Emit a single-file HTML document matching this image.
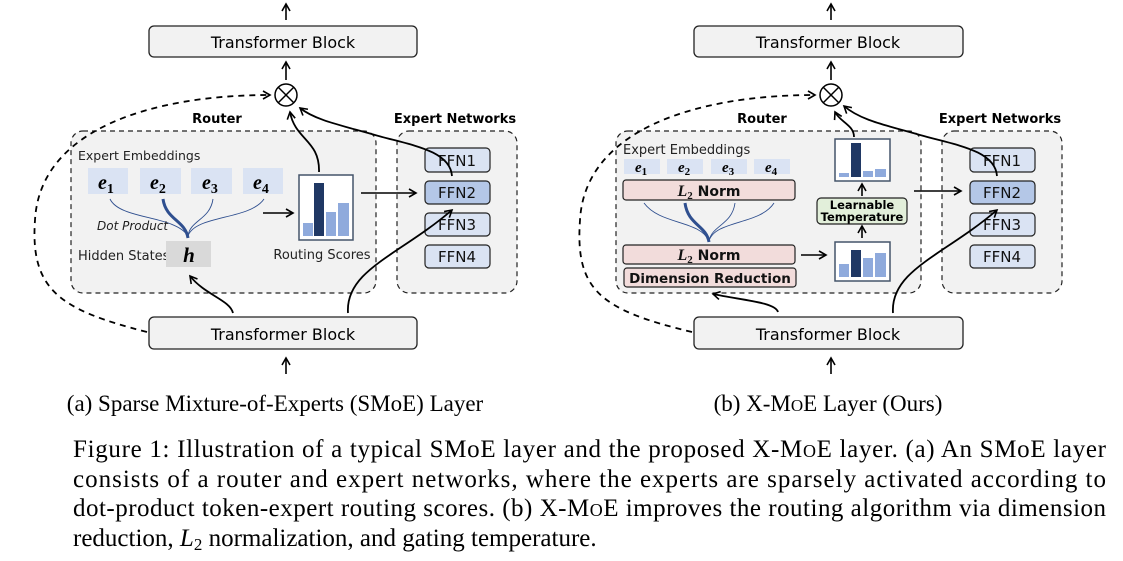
<!DOCTYPE html>
<html><head><meta charset="utf-8"><style>
html,body{margin:0;padding:0;background:#fff;}
svg{display:block;}
.s{font-family:"DejaVu Sans","Liberation Sans",sans-serif;}
.r{font-family:"Liberation Serif",serif;}
</style></head><body>
<svg width="1123" height="561" viewBox="0 0 1123 561" xmlns="http://www.w3.org/2000/svg">
<defs>
<marker id="a" markerWidth="10" markerHeight="10" refX="8" refY="5" orient="auto" markerUnits="userSpaceOnUse">
<path d="M1,1 L8,5 L1,9" fill="none" stroke="#000" stroke-width="1.6"/></marker>
</defs>
<g id="L">
<line x1="286" y1="20" x2="286" y2="4" stroke="#000" stroke-width="1.6" marker-end="url(#a)"/>
<rect x="149" y="26" width="268" height="31" rx="5" fill="#f2f2f2" stroke="#222" stroke-width="1.3"/>
<text x="283" y="48" class="s" font-size="16" text-anchor="middle">Transformer Block</text>
<line x1="286" y1="80" x2="286" y2="62" stroke="#000" stroke-width="1.6" marker-end="url(#a)"/>
<circle cx="286" cy="95" r="11" fill="#fff" stroke="#000" stroke-width="1.5"/>
<line x1="278" y1="87" x2="294" y2="103" stroke="#000" stroke-width="1.5"/>
<line x1="294" y1="87" x2="278" y2="103" stroke="#000" stroke-width="1.5"/>
<rect x="71" y="131" width="305" height="162" rx="12" fill="#f2f2f2" stroke="#222" stroke-width="1.2" stroke-dasharray="5,4"/>
<rect x="397" y="131" width="120" height="162" rx="12" fill="#f2f2f2" stroke="#222" stroke-width="1.2" stroke-dasharray="5,4"/>
<text x="217" y="123" class="s" font-size="13" font-weight="bold" text-anchor="middle">Router</text>
<text x="455" y="123" class="s" font-size="13" font-weight="bold" text-anchor="middle">Expert Networks</text>
<text x="78" y="160" class="s" font-size="12.5" fill="#222">Expert Embeddings</text>
<g fill="#dae3f3">
<rect x="88" y="168" width="40" height="26"/><rect x="140" y="168" width="41" height="26"/><rect x="191" y="168" width="41" height="26"/><rect x="243" y="168" width="40" height="26"/></g>
<g class="r" font-size="20" font-style="italic" font-weight="bold">
<text x="98" y="189">e<tspan font-size="14" font-style="normal" dy="4">1</tspan></text>
<text x="150" y="189">e<tspan font-size="14" font-style="normal" dy="4">2</tspan></text>
<text x="202" y="189">e<tspan font-size="14" font-style="normal" dy="4">3</tspan></text>
<text x="253" y="189">e<tspan font-size="14" font-style="normal" dy="4">4</tspan></text></g>
<g fill="none" stroke="#2f4f8f">
<path d="M110,199 C120,220 175,215 188,236" stroke-width="0.9"/>
<path d="M163,199 C166,220 185,220 188,238" stroke-width="3"/>
<path d="M213,199 C210,220 190,220 188,236" stroke-width="0.9"/>
<path d="M264,199 C250,220 195,215 188,236" stroke-width="0.9"/></g>
<text x="97" y="230" class="s" font-size="12" font-style="italic" fill="#222">Dot Product</text>
<text x="78" y="260" class="s" font-size="13" fill="#222">Hidden States</text>
<rect x="166" y="241" width="45" height="26" fill="#d9d9d9"/>
<text x="189" y="262" class="r" font-size="21" font-style="italic" font-weight="bold" text-anchor="middle">h</text>
<line x1="263" y1="213" x2="293" y2="213" stroke="#000" stroke-width="1.6" marker-end="url(#a)"/>
<rect x="299" y="175" width="54" height="65" fill="#fff" stroke="#44546a" stroke-width="1.5"/>
<rect x="303" y="223" width="10" height="13" fill="#8faadc"/><rect x="314" y="183" width="10" height="53" fill="#203864"/>
<rect x="326" y="212" width="10" height="24" fill="#8faadc"/><rect x="338" y="203" width="11" height="33" fill="#8faadc"/>
<text x="322" y="259" class="s" font-size="13" fill="#222" text-anchor="middle">Routing Scores</text>
<line x1="361" y1="193" x2="416" y2="193" stroke="#000" stroke-width="1.6" marker-end="url(#a)"/>
<g stroke="#222" stroke-width="1.2">
<rect x="425" y="148" width="65" height="24" rx="4" fill="#dae3f3"/>
<rect x="425" y="181" width="65" height="23" rx="4" fill="#b4c7e7"/>
<rect x="425" y="213" width="65" height="23" rx="4" fill="#dae3f3"/>
<rect x="425" y="245" width="65" height="23" rx="4" fill="#dae3f3"/></g>
<g class="s" font-size="15" text-anchor="middle" fill="#111">
<text x="457" y="166">FFN1</text><text x="457" y="198">FFN2</text><text x="457" y="230">FFN3</text><text x="457" y="262">FFN4</text></g>
<g fill="none" stroke="#000" stroke-width="1.8">
<path d="M319,172 C320,140 295,140 290,112" marker-end="url(#a)"/>
<path d="M452,176 C450,150 410,145 375,135 C340,125 315,120 300,108" marker-end="url(#a)"/>
<path d="M233,313 C230,300 205,295 190,276" marker-end="url(#a)"/>
<path d="M348,313 C345,270 400,255 452,210" marker-end="url(#a)"/>
<path d="M147,332 C60,310 30,290 35,220 C40,130 150,95 270,95" stroke-dasharray="6,5" marker-end="url(#a)"/></g>
<rect x="149" y="317" width="268" height="32" rx="5" fill="#f2f2f2" stroke="#222" stroke-width="1.3"/>
<text x="283" y="340" class="s" font-size="16" text-anchor="middle">Transformer Block</text>
<line x1="286" y1="374" x2="286" y2="358" stroke="#000" stroke-width="1.6" marker-end="url(#a)"/>
<text x="275" y="411" class="r" font-size="23" text-anchor="middle">(a) Sparse Mixture-of-Experts (SMoE) Layer</text>
</g>
<g id="R">
<line x1="831" y1="20" x2="831" y2="4" stroke="#000" stroke-width="1.6" marker-end="url(#a)"/>
<rect x="694" y="26" width="269" height="31" rx="5" fill="#f2f2f2" stroke="#222" stroke-width="1.3"/>
<text x="828" y="48" class="s" font-size="16" text-anchor="middle">Transformer Block</text>
<line x1="831" y1="80" x2="831" y2="62" stroke="#000" stroke-width="1.6" marker-end="url(#a)"/>
<circle cx="831" cy="95" r="11" fill="#fff" stroke="#000" stroke-width="1.5"/>
<line x1="823" y1="87" x2="839" y2="103" stroke="#000" stroke-width="1.5"/>
<line x1="839" y1="87" x2="823" y2="103" stroke="#000" stroke-width="1.5"/>
<rect x="616" y="131" width="305" height="162" rx="12" fill="#f2f2f2" stroke="#222" stroke-width="1.2" stroke-dasharray="5,4"/>
<rect x="942" y="131" width="120" height="162" rx="12" fill="#f2f2f2" stroke="#222" stroke-width="1.2" stroke-dasharray="5,4"/>
<text x="762" y="123" class="s" font-size="13" font-weight="bold" text-anchor="middle">Router</text>
<text x="1000" y="123" class="s" font-size="13" font-weight="bold" text-anchor="middle">Expert Networks</text>
<text x="623" y="154" class="s" font-size="13" fill="#222">Expert Embeddings</text>
<g fill="#dae3f3">
<rect x="624" y="159" width="36" height="15"/><rect x="667" y="159" width="36" height="15"/><rect x="711" y="159" width="36" height="15"/><rect x="754" y="159" width="36" height="15"/></g>
<g class="r" font-size="15" font-style="italic" font-weight="bold">
<text x="635" y="172">e<tspan font-size="11" font-style="normal" dy="3">1</tspan></text>
<text x="678" y="172">e<tspan font-size="11" font-style="normal" dy="3">2</tspan></text>
<text x="722" y="172">e<tspan font-size="11" font-style="normal" dy="3">3</tspan></text>
<text x="765" y="172">e<tspan font-size="11" font-style="normal" dy="3">4</tspan></text></g>
<g stroke="#222" stroke-width="1.2" fill="#f2dcdb">
<rect x="623" y="180" width="172" height="20" rx="3"/><rect x="623" y="245" width="172" height="19" rx="3"/><rect x="624" y="268" width="172" height="19" rx="3"/></g>
<g class="s" font-size="14" text-anchor="middle" fill="#111">
<text x="709" y="196"><tspan class="r" font-style="italic" font-weight="bold" font-size="16">L</tspan><tspan class="r" font-size="11" font-weight="bold" dy="3">2</tspan><tspan dy="-3" font-weight="bold"> Norm</tspan></text>
<text x="709" y="260"><tspan class="r" font-style="italic" font-weight="bold" font-size="16">L</tspan><tspan class="r" font-size="11" font-weight="bold" dy="3">2</tspan><tspan dy="-3" font-weight="bold"> Norm</tspan></text>
<text x="710" y="283" font-weight="bold" font-size="13.5">Dimension Reduction</text></g>
<g fill="none" stroke="#2f4f8f">
<path d="M644,203 C660,225 700,220 709,241" stroke-width="0.9"/>
<path d="M685,203 C688,225 706,225 709,242" stroke-width="3"/>
<path d="M735,203 C732,225 712,225 709,241" stroke-width="0.9"/>
<path d="M774,203 C760,225 715,220 709,241" stroke-width="0.9"/></g>
<line x1="801" y1="255" x2="826" y2="255" stroke="#000" stroke-width="1.6" marker-end="url(#a)"/>
<rect x="835" y="242" width="55" height="39" fill="#fff" stroke="#44546a" stroke-width="1.5"/>
<rect x="839" y="264" width="10" height="13" fill="#8faadc"/><rect x="851" y="250" width="10" height="27" fill="#203864"/>
<rect x="863" y="258" width="10" height="19" fill="#8faadc"/><rect x="875" y="253" width="11" height="24" fill="#8faadc"/>
<line x1="862" y1="238" x2="862" y2="226" stroke="#000" stroke-width="1.6" marker-end="url(#a)"/>
<rect x="817" y="198" width="90" height="26" rx="4" fill="#e2efda" stroke="#222" stroke-width="1.2"/>
<text x="862" y="209" class="s" font-size="11.5" font-weight="bold" text-anchor="middle">Learnable</text>
<text x="862" y="221" class="s" font-size="11.5" font-weight="bold" text-anchor="middle">Temperature</text>
<line x1="862" y1="196" x2="862" y2="184" stroke="#000" stroke-width="1.6" marker-end="url(#a)"/>
<rect x="835" y="139" width="55" height="42" fill="#fff" stroke="#44546a" stroke-width="1.5"/>
<rect x="839" y="173" width="10" height="4" fill="#8faadc"/><rect x="851" y="143" width="10" height="34" fill="#203864"/>
<rect x="863" y="171" width="10" height="6" fill="#8faadc"/><rect x="875" y="169" width="11" height="8" fill="#8faadc"/>
<line x1="914" y1="191" x2="961" y2="191" stroke="#000" stroke-width="1.6" marker-end="url(#a)"/>
<g stroke="#222" stroke-width="1.2">
<rect x="970" y="148" width="65" height="24" rx="4" fill="#dae3f3"/>
<rect x="970" y="181" width="65" height="23" rx="4" fill="#b4c7e7"/>
<rect x="970" y="213" width="65" height="23" rx="4" fill="#dae3f3"/>
<rect x="970" y="245" width="65" height="23" rx="4" fill="#dae3f3"/></g>
<g class="s" font-size="15" text-anchor="middle" fill="#111">
<text x="1002" y="166">FFN1</text><text x="1002" y="198">FFN2</text><text x="1002" y="230">FFN3</text><text x="1002" y="262">FFN4</text></g>
<g fill="none" stroke="#000" stroke-width="1.8">
<path d="M854,137 C854,125 840,122 835,112" marker-end="url(#a)"/>
<path d="M997,176 C995,150 955,145 920,135 C885,125 860,120 844,106" marker-end="url(#a)"/>
<path d="M778,312 C775,302 740,300 713,294" marker-end="url(#a)"/>
<path d="M893,313 C890,270 945,255 997,210" marker-end="url(#a)"/>
<path d="M692,332 C600,310 575,290 580,220 C585,130 695,95 815,95" stroke-dasharray="6,5" marker-end="url(#a)"/></g>
<rect x="694" y="317" width="269" height="32" rx="5" fill="#f2f2f2" stroke="#222" stroke-width="1.3"/>
<text x="828" y="340" class="s" font-size="16" text-anchor="middle">Transformer Block</text>
<line x1="831" y1="374" x2="831" y2="358" stroke="#000" stroke-width="1.6" marker-end="url(#a)"/>
<text x="828" y="411" class="r" font-size="23" text-anchor="middle">(b) X-M<tspan font-size="17">O</tspan>E Layer (Ours)</text>
</g>
<g class="r" font-size="25" fill="#000">
<text x="73" y="457" textLength="1033" lengthAdjust="spacing">Figure 1: Illustration of a typical SMoE layer and the proposed X-M<tspan font-size="18">O</tspan>E layer. (a) An SMoE layer</text>
<text x="73" y="487" textLength="1033" lengthAdjust="spacing">consists of a router and expert networks, where the experts are sparsely activated according to</text>
<text x="73" y="516" textLength="1033" lengthAdjust="spacing">dot-product token-expert routing scores. (b) X-M<tspan font-size="18">O</tspan>E improves the routing algorithm via dimension</text>
<text x="73" y="546">reduction, <tspan font-style="italic">L</tspan><tspan font-size="17" dy="4">2</tspan><tspan dy="-4"> normalization, and gating temperature.</tspan></text>
</g>
</svg>
</body></html>
